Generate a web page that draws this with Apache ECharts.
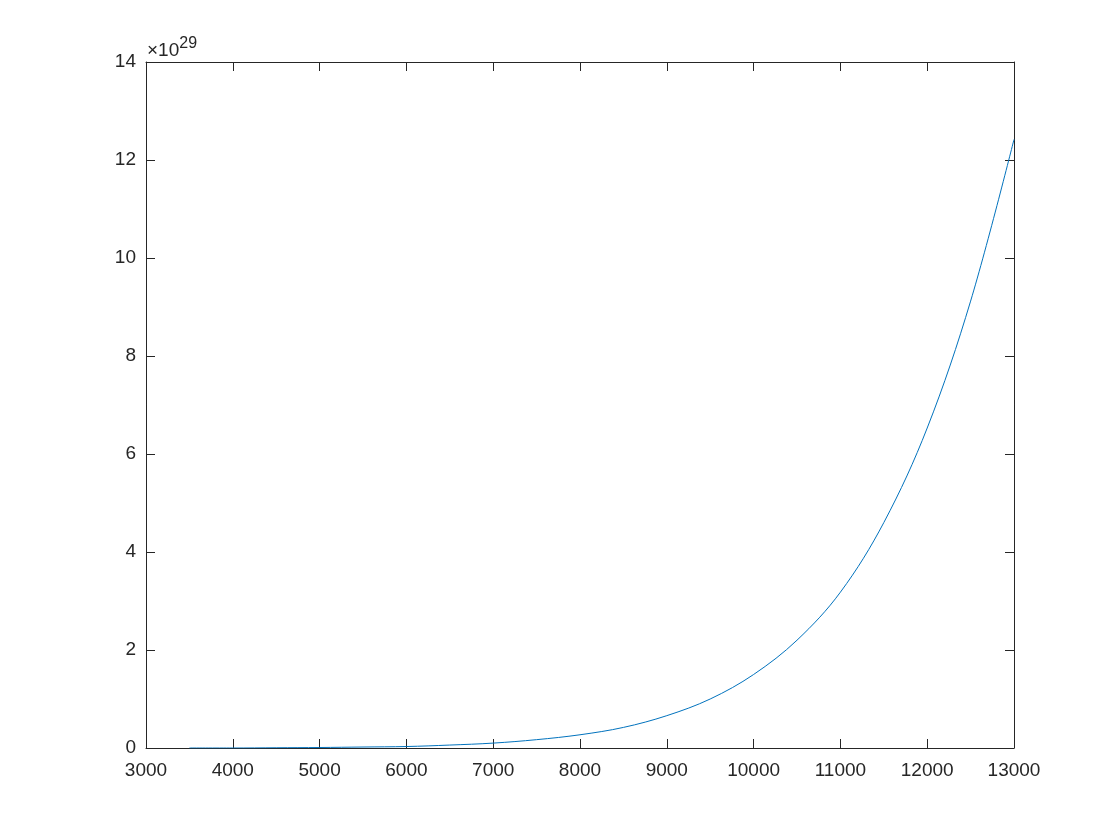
<!DOCTYPE html>
<html>
<head>
<meta charset="utf-8">
<script src="https://cdn.jsdelivr.net/npm/echarts@6/dist/echarts.min.js"></script>
<style>
html,body{margin:0;padding:0;background:#fff;}
#chart{width:1120px;height:840px;}
</style>
</head>
<body>
<div id="chart"></div>
<script>
// x values
const xValues = [3500, 4000, 4500, 5000, 5500, 6000, 6500, 7000, 7500, 8000, 8500, 9000, 9500, 10000, 10500, 11000, 11500, 12000, 12500, 13000];
// y values in units of 10^29
const yValues = [0.00, 0.00, 0.005, 0.01, 0.02, 0.03, 0.06, 0.10, 0.17, 0.27, 0.42, 0.66, 1.00, 1.50, 2.20, 3.18, 4.60, 6.53, 9.12, 12.42];
const xTicks = [3000, 4000, 5000, 6000, 7000, 8000, 9000, 10000, 11000, 12000, 13000];
const yTicks = [0, 2, 4, 6, 8, 10, 12, 14];
const exponentBase = '×10';
const exponentPower = '29';

const chart = echarts.init(document.getElementById('chart'), null, {renderer: 'canvas'});
const font = "'Liberation Sans', Helvetica, Arial, sans-serif";
const axisColor = '#262626';
const common = () => ({
  axisLine: {show: true, onZero: false, lineStyle: {color: axisColor, width: 1}},
  axisTick: {show: true, inside: true, length: 9, lineStyle: {color: axisColor, width: 1}},
  splitLine: {show: false}
});
const xMin = xTicks[0], xMax = xTicks[xTicks.length - 1];
const yMin = yTicks[0], yMax = yTicks[yTicks.length - 1];
const xInt = xTicks[1] - xTicks[0], yInt = yTicks[1] - yTicks[0];
const plain = v => String(v);

chart.setOption({
  animation: false,
  backgroundColor: '#ffffff',
  grid: {left: 146, right: 106, top: 62, bottom: 92, containLabel: false},
  xAxis: [
    Object.assign({type: 'value', position: 'bottom', min: xMin, max: xMax, interval: xInt,
      axisLabel: {show: true, color: axisColor, fontFamily: font, fontSize: 19, margin: 13, formatter: plain}}, common()),
    Object.assign({type: 'value', position: 'top', min: xMin, max: xMax, interval: xInt,
      axisLabel: {show: false}}, common())
  ],
  yAxis: [
    Object.assign({type: 'value', position: 'left', min: yMin, max: yMax, interval: yInt,
      axisLabel: {show: true, color: axisColor, fontFamily: font, fontSize: 19, margin: 10, formatter: plain}}, common()),
    Object.assign({type: 'value', position: 'right', min: yMin, max: yMax, interval: yInt,
      axisLabel: {show: false}}, common())
  ],
  graphic: [{
    type: 'text',
    left: 147,
    top: 36,
    style: {
      text: '{b|' + exponentBase + '}{p|' + exponentPower + '}',
      rich: {
        b: {fontFamily: font, fontSize: 19, fill: axisColor, verticalAlign: 'bottom', lineHeight: 24},
        p: {fontFamily: font, fontSize: 16, fill: axisColor, verticalAlign: 'top', lineHeight: 24, padding: [0, 0, 9, 0]}
      }
    }
  }],
  series: [{
    type: 'line',
    xAxisIndex: 0,
    yAxisIndex: 0,
    data: xValues.map((x, i) => [x, yValues[i]]),
    showSymbol: false,
    smooth: 0.35,
    lineStyle: {color: '#0072BD', width: 1},
    itemStyle: {color: '#0072BD'}
  }]
});
</script>
</body>
</html>
